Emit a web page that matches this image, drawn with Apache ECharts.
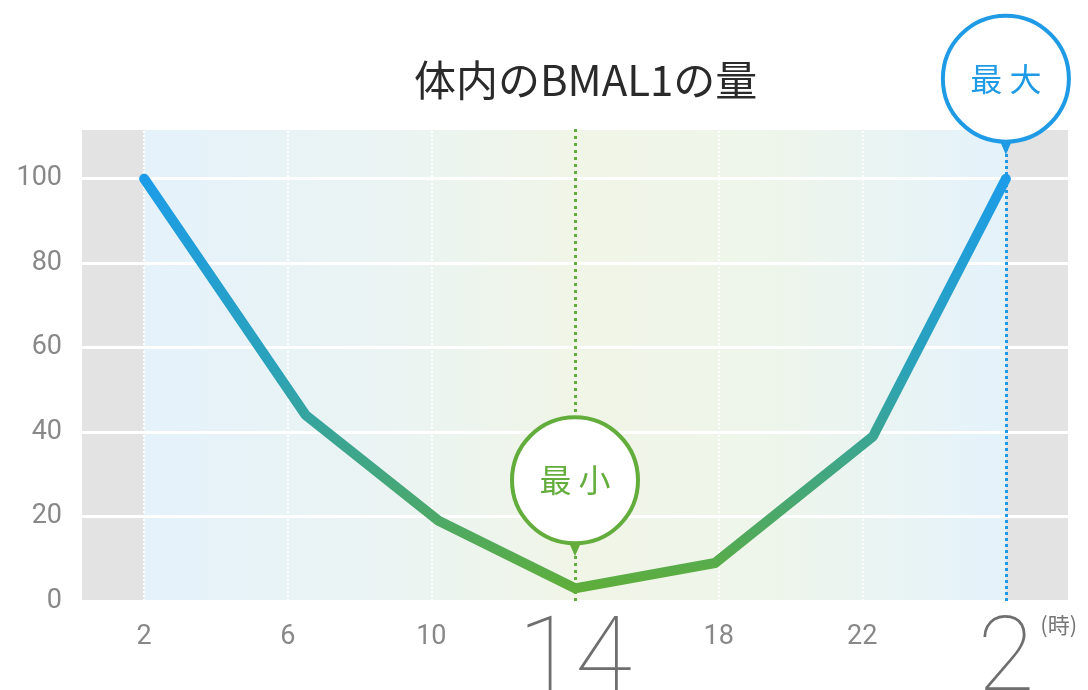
<!DOCTYPE html>
<html>
<head>
<meta charset="utf-8">
<title>体内のBMAL1の量</title>
<script src="https://cdn.jsdelivr.net/npm/echarts@6/dist/echarts.min.js"></script>
<style>
  html, body { margin: 0; padding: 0; background: #fff; }
  #main { width: 1088px; height: 690px; }
</style>
</head>
<body>
<div id="main"></div>
<script>
// 時刻（時）… 26 は翌日の 2 時
const hours = [2, 6.5, 10.2, 14, 17.9, 22.3, 26]
const bmal1 = [100, 44, 19, 3, 9, 39, 100]
const xTicks = [2, 6, 10, 14, 18, 22, 26]
const bigTicks = [14, 26]
const dayStart = 2
const dayEnd = 26
const xMin = 0.27
const xMax = 27.73
const maxHour = 26
const minHour = 14

const BLUE = '#1f9be6'
const GREEN = '#63ad3c'
const LABEL = '"Roboto", "Noto Sans", sans-serif'
const CJK = '"Noto Sans CJK JP", sans-serif'

const chart = echarts.init(document.getElementById('main'))

const option = {
  animation: false,
  backgroundColor: '#fff',
  title: {
    text: '体内のBMAL1の量',
    left: 409,
    top: 54,
    textStyle: { fontFamily: CJK, fontSize: 42, fontWeight: 'normal', color: '#2a2a2a' }
  },
  grid: { left: 82, right: 20, top: 128, bottom: 89, outerBoundsMode: 'none', containLabel: false },
  xAxis: {
    type: 'value',
    min: xMin,
    max: xMax,
    z: 1,
    axisLine: { show: false },
    axisTick: { show: false },
    splitLine: { show: false },
    name: '(時)',
    nameLocation: 'end',
    nameGap: -31,
    nameTextStyle: {
      fontFamily: CJK, fontSize: 22, color: '#777',
      align: 'left', verticalAlign: 'top', padding: [13, 0, 0, 0]
    },
    axisLabel: {
      customValues: xTicks,
      margin: 12,
      formatter: function (v) {
        const t = v > 24 ? v - 24 : v
        return bigTicks.includes(v) ? '{big|' + t + '}' : '{small|' + t + '}'
      },
      rich: {
        small: { fontFamily: LABEL, fontSize: 27, color: '#888', padding: [11, 0, 0, 0] },
        big: { fontFamily: LABEL, fontSize: 104, fontWeight: 100, color: '#6f6f6f', lineHeight: 102 }
      }
    }
  },
  yAxis: {
    type: 'value',
    min: 0,
    max: 112,
    interval: 20,
    z: 1,
    axisLine: { show: false },
    axisTick: { show: false },
    axisLabel: {
      margin: 20,
      showMaxLabel: false,
      fontFamily: LABEL, fontSize: 27, color: '#888'
    },
    splitLine: { lineStyle: { color: '#fff', width: 3 } }
  },
  series: [
    {
      // 背景の帯
      type: 'line',
      data: [],
      z: 0,
      silent: true,
      markArea: {
        silent: true,
        z: 0,
        data: [
          [{ xAxis: xMin, itemStyle: { color: '#e3e3e3' } }, { xAxis: dayStart }],
          [{
            xAxis: dayStart,
            itemStyle: {
              color: new echarts.graphic.LinearGradient(0, 0, 1, 0, [
                { offset: 0, color: '#e5f2fb' },
                { offset: 0.3, color: '#ebf4f2' },
                { offset: 0.5, color: '#f0f5e7' },
                { offset: 0.72, color: '#eef5ea' },
                { offset: 1, color: '#e4f2fb' }
              ])
            }
          }, { xAxis: dayEnd }],
          [{ xAxis: dayEnd, itemStyle: { color: '#e3e3e3' } }, { xAxis: xMax }]
        ]
      }
    },
    {
      // 時刻の点線
      type: 'line',
      data: [],
      z: 2,
      silent: true,
      markLine: {
        silent: true,
        z: 2,
        symbol: ['none', 'none'],
        label: { show: false },
        lineStyle: { color: '#fff', width: 2, type: [2, 2] },
        data: xTicks.filter(h => h !== minHour && h !== maxHour).map(h => ({ xAxis: h }))
          .concat([
            { xAxis: minHour, lineStyle: { color: GREEN, width: 3, type: [3, 4] } },
            { xAxis: maxHour, lineStyle: { color: BLUE, width: 3, type: [3, 3] } }
          ])
      }
    },
    {
      name: 'BMAL1',
      type: 'line',
      z: 5,
      symbol: 'none',
      data: hours.map((h, i) => [h, bmal1[i]]),
      lineStyle: {
        width: 10,
        cap: 'round',
        join: 'round',
        color: new echarts.graphic.LinearGradient(0, 0, 0, 1, [
          { offset: 0, color: '#1c9ce9' },
          { offset: 0.45, color: '#2aa2bb' },
          { offset: 0.8, color: '#4aa86d' },
          { offset: 1, color: '#60ae38' }
        ])
      }
    }
  ]
}

chart.setOption(option)

// 吹き出し（最大・最小）
function callout(id, hour, value, color, text, lift) {
  const p = chart.convertToPixel({ gridIndex: 0 }, [hour, value])
  const cx = p[0]
  const cy = p[1] - lift
  return [
    { type: 'polygon', id: id + '-tip', z: 100,
      shape: { points: [[cx - 7, cy + 60], [cx + 7, cy + 60], [cx, cy + 76]] },
      style: { fill: color } },
    { type: 'circle', id: id + '-ring', z: 101,
      shape: { cx: cx, cy: cy, r: 63 },
      style: { fill: '#fff', stroke: color, lineWidth: 4 } },
    { type: 'text', id: id + '-text', z: 102,
      style: {
        text: text, x: cx, y: cy, align: 'center', verticalAlign: 'middle',
        fontFamily: CJK, fontSize: 32, fill: color
      } }
  ]
}

chart.setOption({
  graphic: {
    elements: callout('max', maxHour, 100, BLUE, '最 大', 100)
      .concat(callout('min', minHour, 3, GREEN, '最 小', 108))
  }
})
</script>
</body>
</html>
